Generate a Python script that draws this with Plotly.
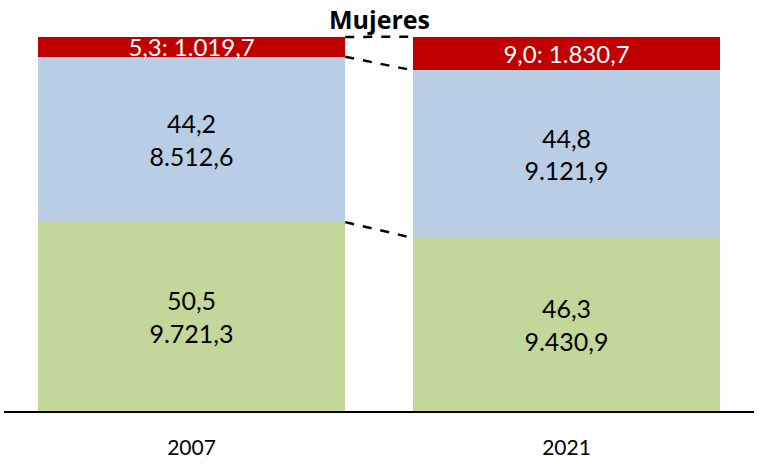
import plotly.graph_objects as go

years = ["2007", "2021"]
series_names = ["Green", "Blue", "Red"]
pct_green = [50.5, 46.3]
pct_blue = [44.2, 44.8]
pct_red = [5.3, 9.0]
cnt_green = ["9.721,3", "9.430,9"]
cnt_blue = ["8.512,6", "9.121,9"]
cnt_red = ["1.019,7", "1.830,7"]
pct_green_lbl = ["50,5", "46,3"]
pct_blue_lbl = ["44,2", "44,8"]
pct_red_lbl = ["5,3", "9,0"]
title = "Mujeres"

FONT = "Lato, Calibri, Carlito, sans-serif"
BARGAP = 0.18
YMAX = 100.0

fig = go.Figure()
fig.add_bar(x=years, y=pct_green, marker_color="#C4D79B", marker_line_width=0,
            text=[f"{p}<br>{c}" for p, c in zip(pct_green_lbl, cnt_green)],
            textposition="inside", insidetextanchor="middle", constraintext="none",
            textfont=dict(family=FONT, size=25, color="black"), name=series_names[0])
fig.add_bar(x=years, y=pct_blue, marker_color="#B9CDE5", marker_line_width=0,
            text=[f"{p}<br>{c}" for p, c in zip(pct_blue_lbl, cnt_blue)],
            textposition="inside", insidetextanchor="middle", constraintext="none",
            textfont=dict(family=FONT, size=25, color="black"), name=series_names[1])
fig.add_bar(x=years, y=pct_red, marker_color="#C00000", marker_line_width=0,
            text=[f"{p}: {c}" for p, c in zip(pct_red_lbl, cnt_red)],
            textposition="inside", insidetextanchor="middle", constraintext="none",
            textfont=dict(family=FONT, size=24, color="white"), name=series_names[2])

# dashed connectors between stacked boundaries (y in paper units = value / axis max)
half = (1 - BARGAP) / 2
levels = []
for i in range(len(years)):
    levels.append([pct_green[i], pct_green[i] + pct_blue[i],
                   pct_green[i] + pct_blue[i] + pct_red[i]])
for k in range(3):
    fig.add_shape(type="line", xref="x", yref="paper",
                  x0=0 + half, x1=1 - half,
                  y0=levels[0][k] / YMAX, y1=levels[1][k] / YMAX,
                  line=dict(color="black", width=2.5, dash="dash"))

fig.update_layout(
    barmode="stack", bargap=BARGAP, showlegend=False,
    width=759, height=469,
    margin=dict(l=4, r=5, t=37, b=58),
    paper_bgcolor="white", plot_bgcolor="white",
    title=dict(text=f"<b>{title}</b>", x=0.5, xanchor="center", y=0.956, yanchor="middle",
               font=dict(family="Open Sans, sans-serif", size=25, color="black")),
    hovermode=False,
)
fig.update_xaxes(showline=True, linecolor="black", linewidth=1.5, ticks="",
                 tickfont=dict(family=FONT, size=21, color="black"), ticklabelstandoff=17,
                 showgrid=False)
fig.update_yaxes(range=[0, YMAX], visible=False, showgrid=False)

fig.write_html("out.html", config={"displayModeBar": False},
               post_script="document.body.style.margin='0px';")
